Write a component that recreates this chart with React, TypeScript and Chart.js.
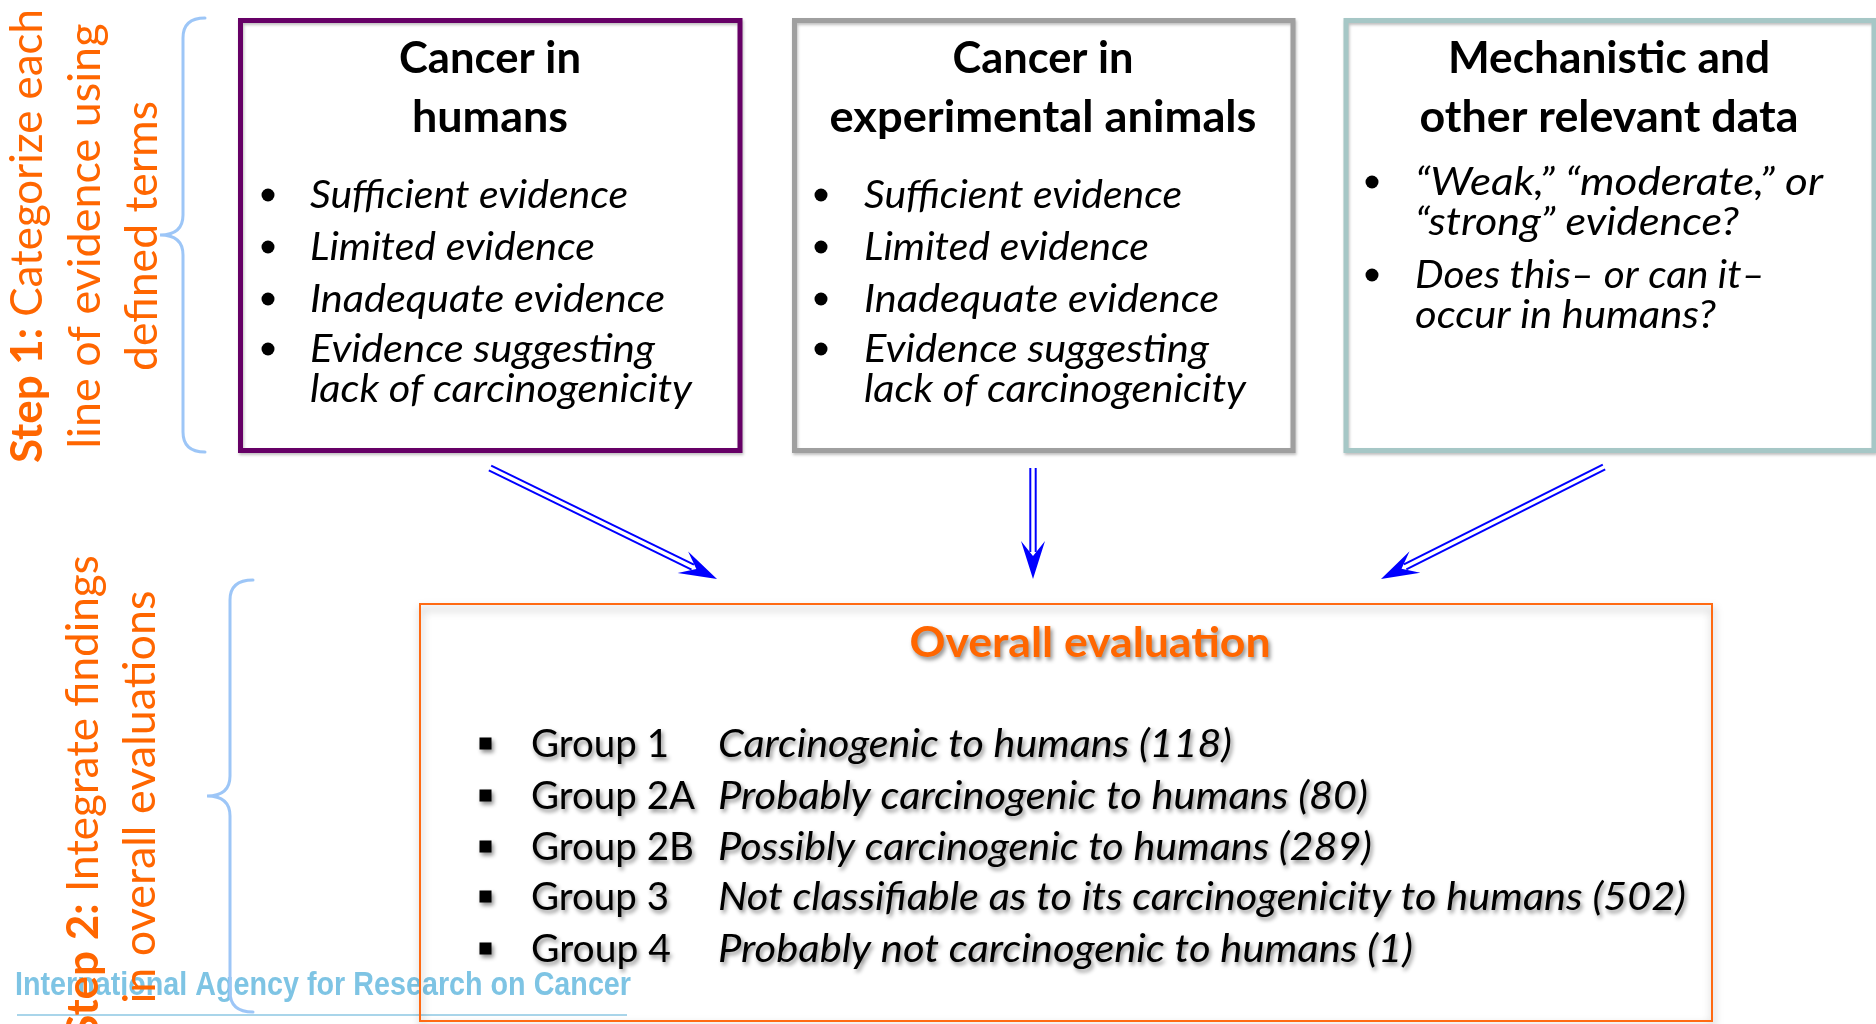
import React, { useEffect, useRef } from "react";
import { Chart, registerables } from "chart.js";
Chart.register(...registerables);

const W = 1876;
const H = 1024;
const FONT = '"Lato", "Open Sans", "Noto Sans", sans-serif';

// ---------- content ----------
const boxTitles: string[][] = [
  ["Cancer in", "humans"],
  ["Cancer in", "experimental animals"],
  ["Mechanistic and", "other relevant data"],
];
const humanItems: string[][] = [
  ["Sufficient evidence"],
  ["Limited evidence"],
  ["Inadequate evidence"],
  ["Evidence suggesting", "lack of carcinogenicity"],
];
const animalItems: string[][] = [
  ["Sufficient evidence"],
  ["Limited evidence"],
  ["Inadequate evidence"],
  ["Evidence suggesting", "lack of carcinogenicity"],
];
const mechanisticItems: string[][] = [
  ["\u201CWeak,\u201D \u201Cmoderate,\u201D or", "\u201Cstrong\u201D evidence?"],
  ["Does this\u2013 or can it\u2013", "occur in humans?"],
];
const overallTitle = "Overall evaluation";
const groupLabels = ["Group 1", "Group 2A", "Group 2B", "Group 3", "Group 4"];
const groupDescriptions = [
  "Carcinogenic to humans",
  "Probably carcinogenic to humans",
  "Possibly carcinogenic to humans",
  "Not classifiable as to its carcinogenicity to humans",
  "Probably not carcinogenic to humans",
];
const groupCounts = [118, 80, 289, 502, 1];
const step1Lines = [
  [{ t: "Step 1:", b: true }, { t: " Categorize each", b: false }],
  [{ t: "line of evidence using", b: false }],
  [{ t: "defined terms", b: false }],
];
const step2Lines = [
  [{ t: "Step 2:", b: true }, { t: " Integrate findings", b: false }],
  [{ t: "in overall evaluations", b: false }],
];
const footerText = "International Agency for Research on Cancer";

// ---------- layout (positions / sizes / styles) ----------
const boxItems = [humanItems, animalItems, mechanisticItems];
const boxLayout = [
  { x1: 240.5, y1: 20.5, x2: 740, y2: 450.5, color: "#660066", cx: 490, tw: [182, 156],
    dotX: 268, textX: 310, base: [[208], [260], [312], [362, 402]], iw: [[318], [285], [355], [345, 382]] },
  { x1: 794.5, y1: 20.5, x2: 1293, y2: 450.5, color: "#9F9F9F", cx: 1043, tw: [181, 427],
    dotX: 821, textX: 864, base: [[208], [260], [312], [362, 402]], iw: [[318], [285], [355], [345, 382]] },
  { x1: 1346, y1: 20.5, x2: 1874, y2: 450.5, color: "#A6C7C6", cx: 1609, tw: [322, 379],
    dotX: 1372, textX: 1415, base: [[195, 235], [288, 328]], iw: [[408, 324], [350, 301]] },
];
const titleBase = [73, 132];
const overallBox = { x1: 420, y1: 604, x2: 1712, y2: 1021 };
const overallTitlePos = { cx: 1090, y: 657, w: 361 };
const groupLayout = { sqX: 485.5, labelX: 531, descX: 718, base: [757, 809, 860, 910, 962],
  lw: [138, 164, 163, 138, 140], dw: [514, 650, 654, 968, 695] };
const arrows = [
  { from: [490, 468], to: [717, 579] },
  { from: [1033, 468], to: [1033, 579] },
  { from: [1604, 467], to: [1381, 579] },
];
const braces = [
  { x: 183, top: 18, bottom: 452, tipX: 160, midY: 235, endX: 205 },
  { x: 230, top: 580, bottom: 1012, tipX: 207, midY: 796, endX: 253 },
];
const step1Layout = { bx: [42, 100, 157], cy: 236, w: [454, 425, 270] };
const step2Layout = { bx: [98, 155], cy: 797, w: [0, 413] };
const footerLayout = { x: 15, y: 995, w: 616, lineY: 1015, lx1: 17, lx2: 627 };

const ORANGE = "#FF6600";

const dotPoints: { x: number; y: number }[] = [];
boxLayout.forEach((b, bi) => {
  boxItems[bi].forEach((_, ii) => dotPoints.push({ x: b.dotX, y: b.base[ii][0] - 13 }));
});
const squarePoints = groupLayout.base.map((y) => ({ x: groupLayout.sqX, y: y - 13.5 }));

function fitText(ctx: CanvasRenderingContext2D, text: string, x: number, y: number, width: number, align: CanvasTextAlign) {
  const m = ctx.measureText(text).width;
  const s = width ? width / m : 1;
  ctx.save();
  ctx.translate(x, y);
  ctx.scale(s, 1);
  ctx.textAlign = align;
  ctx.textBaseline = "alphabetic";
  ctx.fillText(text, 0, 0);
  ctx.restore();
}

function drawRotated(ctx: CanvasRenderingContext2D, runs: { t: string; b: boolean }[], bx: number, cy: number, width: number, size: number) {
  const fonts = runs.map((r) => `${r.b ? "bold " : ""}${size}px ${FONT}`);
  const ws = runs.map((r, i) => { ctx.font = fonts[i]; return ctx.measureText(r.t).width; });
  const total = ws.reduce((a, b) => a + b, 0);
  const s = width ? width / total : 1;
  ctx.save();
  ctx.translate(bx, cy);
  ctx.rotate(-Math.PI / 2);
  ctx.scale(s, 1);
  ctx.textAlign = "left";
  ctx.textBaseline = "alphabetic";
  let x = -total / 2;
  runs.forEach((r, i) => { ctx.font = fonts[i]; ctx.fillText(r.t, x, 0); x += ws[i]; });
  ctx.restore();
}

const diagramPlugin = {
  id: "diagram",
  beforeDatasetDraw(chart: any, args: any) {
    if (args.index === 1) {
      const ctx = chart.ctx;
      ctx.save();
      ctx.shadowColor = "rgba(0,0,0,0.45)";
      ctx.shadowBlur = 4;
      ctx.shadowOffsetX = 2;
      ctx.shadowOffsetY = 3;
    }
  },
  afterDatasetDraw(chart: any, args: any) {
    if (args.index === 1) chart.ctx.restore();
  },
  beforeDatasetsDraw(chart: any) {
    const ctx: CanvasRenderingContext2D = chart.ctx;
    const X = (v: number) => chart.scales.x.getPixelForValue(v);
    const Y = (v: number) => chart.scales.y.getPixelForValue(v);

    // footer (drawn first, underneath)
    ctx.save();
    ctx.fillStyle = "#7EC4E4";
    ctx.font = `bold 33px "Liberation Sans Narrow", "Liberation Sans", Arial, sans-serif`;
    fitText(ctx, footerText, X(footerLayout.x), Y(footerLayout.y), footerLayout.w, "left");
    ctx.strokeStyle = "#A9D5EA";
    ctx.lineWidth = 2;
    ctx.beginPath();
    ctx.moveTo(X(footerLayout.lx1), Y(footerLayout.lineY));
    ctx.lineTo(X(footerLayout.lx2), Y(footerLayout.lineY));
    ctx.stroke();
    ctx.restore();

    // top boxes
    boxLayout.forEach((b, bi) => {
      ctx.save();
      ctx.shadowColor = "rgba(0,0,0,0.25)";
      ctx.shadowBlur = 3;
      ctx.shadowOffsetX = 1;
      ctx.shadowOffsetY = 2;
      ctx.strokeStyle = b.color;
      ctx.lineWidth = 5;
      ctx.strokeRect(X(b.x1), Y(b.y1), X(b.x2) - X(b.x1), Y(b.y2) - Y(b.y1));
      ctx.restore();

      ctx.save();
      ctx.fillStyle = "#000";
      ctx.font = `bold 43px ${FONT}`;
      boxTitles[bi].forEach((t, li) => fitText(ctx, t, X(b.cx), Y(titleBase[li]), b.tw[li], "center"));
      ctx.font = `italic 38px ${FONT}`;
      boxItems[bi].forEach((item, ii) => {
        item.forEach((line, li) => fitText(ctx, line, X(b.textX), Y(b.base[ii][li]), b.iw[ii][li], "left"));
      });
      ctx.restore();
    });

    // arrows
    arrows.forEach((a) => {
      const [x0, y0] = [X(a.from[0]), Y(a.from[1])];
      const [x1, y1] = [X(a.to[0]), Y(a.to[1])];
      const dx = x1 - x0, dy = y1 - y0;
      const L = Math.hypot(dx, dy);
      const ux = dx / L, uy = dy / L;
      const px = -uy, py = ux;
      const back = 38, half = 12, notch = 23, gap = 2.7;
      ctx.save();
      ctx.strokeStyle = "#0000FF";
      ctx.fillStyle = "#0000FF";
      ctx.lineWidth = 2;
      [-gap, gap].forEach((o) => {
        ctx.beginPath();
        ctx.moveTo(x0 + px * o, y0 + py * o);
        ctx.lineTo(x1 - ux * (notch + 4) + px * o, y1 - uy * (notch + 4) + py * o);
        ctx.stroke();
      });
      ctx.beginPath();
      ctx.moveTo(x1, y1);
      ctx.lineTo(x1 - ux * back + px * half, y1 - uy * back + py * half);
      ctx.lineTo(x1 - ux * notch, y1 - uy * notch);
      ctx.lineTo(x1 - ux * back - px * half, y1 - uy * back - py * half);
      ctx.closePath();
      ctx.fill();
      ctx.restore();
    });

    // overall box
    ctx.save();
    ctx.shadowColor = "rgba(0,0,0,0.35)";
    ctx.shadowBlur = 8;
    ctx.shadowOffsetX = 1;
    ctx.shadowOffsetY = 5;
    ctx.strokeStyle = "#FF6A13";
    ctx.lineWidth = 2;
    ctx.strokeRect(X(overallBox.x1), Y(overallBox.y1), X(overallBox.x2) - X(overallBox.x1), Y(overallBox.y2) - Y(overallBox.y1));
    ctx.restore();

    ctx.save();
    ctx.shadowColor = "rgba(0,0,0,0.45)";
    ctx.shadowBlur = 4;
    ctx.shadowOffsetX = 2;
    ctx.shadowOffsetY = 3;
    ctx.fillStyle = ORANGE;
    ctx.font = `bold 42px ${FONT}`;
    fitText(ctx, overallTitle, X(overallTitlePos.cx), Y(overallTitlePos.y), overallTitlePos.w, "center");
    ctx.fillStyle = "#000";
    groupLabels.forEach((g, i) => {
      ctx.font = `38px ${FONT}`;
      fitText(ctx, g, X(groupLayout.labelX), Y(groupLayout.base[i]), groupLayout.lw[i], "left");
      ctx.font = `italic 38px ${FONT}`;
      fitText(ctx, `${groupDescriptions[i]} (${groupCounts[i]})`, X(groupLayout.descX), Y(groupLayout.base[i]), groupLayout.dw[i], "left");
    });
    ctx.restore();

    // step texts
    ctx.save();
    ctx.fillStyle = ORANGE;
    step1Lines.forEach((runs, i) => drawRotated(ctx, runs, X(step1Layout.bx[i]), Y(step1Layout.cy), step1Layout.w[i], 44));
    step2Lines.forEach((runs, i) => drawRotated(ctx, runs, X(step2Layout.bx[i]), Y(step2Layout.cy), step2Layout.w[i], 44));
    ctx.restore();

    // braces
    braces.forEach((b) => {
      const r = 20;
      ctx.save();
      ctx.strokeStyle = "#9DC6F7";
      ctx.lineWidth = 3;
      ctx.lineCap = "round";
      ctx.beginPath();
      ctx.moveTo(X(b.endX), Y(b.top));
      ctx.quadraticCurveTo(X(b.x), Y(b.top), X(b.x), Y(b.top + r));
      ctx.lineTo(X(b.x), Y(b.midY - r));
      ctx.quadraticCurveTo(X(b.x), Y(b.midY), X(b.tipX), Y(b.midY));
      ctx.quadraticCurveTo(X(b.x), Y(b.midY), X(b.x), Y(b.midY + r));
      ctx.lineTo(X(b.x), Y(b.bottom - r));
      ctx.quadraticCurveTo(X(b.x), Y(b.bottom), X(b.endX), Y(b.bottom));
      ctx.stroke();
      ctx.restore();
    });
  },
};

export default function App() {
  const ref = useRef<HTMLCanvasElement>(null);
  useEffect(() => {
    document.body.style.margin = "0";
    const chart = new Chart(ref.current as HTMLCanvasElement, {
      type: "scatter",
      data: {
        datasets: [
          { label: "bullets", data: dotPoints, pointStyle: "circle", pointRadius: 6.5, backgroundColor: "#000", borderWidth: 0 },
          { label: "group bullets", data: squarePoints, pointStyle: "rect", pointRadius: 8.5, backgroundColor: "#000", borderWidth: 0 },
        ],
      },
      options: {
        responsive: false,
        animation: false,
        events: [],
        layout: { padding: 0, autoPadding: false },
        plugins: { legend: { display: false }, tooltip: { enabled: false } },
        scales: {
          x: { type: "linear", min: 0, max: W, display: false },
          y: { type: "linear", min: 0, max: H, reverse: true, display: false },
        },
      },
      plugins: [diagramPlugin],
    } as any);
    return () => chart.destroy();
  }, []);
  return (
    <div style={{ position: "fixed", left: 0, top: 0, width: W, height: H, background: "#fff", overflow: "hidden" }}>
      <canvas ref={ref} width={W} height={H} style={{ display: "block", width: W, height: H }} />
    </div>
  );
}
